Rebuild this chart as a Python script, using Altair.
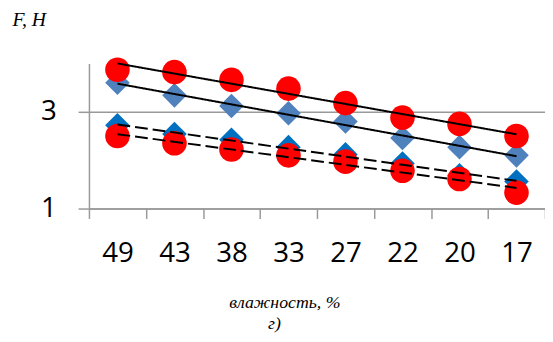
import altair as alt
import pandas as pd

categories = ["49", "43", "38", "33", "27", "22", "20", "17"]
blue_upper = [3.60, 3.34, 3.12, 2.97, 2.80, 2.46, 2.27, 2.10]
red_upper = [3.87, 3.82, 3.66, 3.48, 3.18, 2.88, 2.75, 2.50]
blue_lower = [2.72, 2.54, 2.42, 2.27, 2.12, 1.93, 1.69, 1.56]
red_lower = [2.50, 2.35, 2.22, 2.10, 1.97, 1.78, 1.61, 1.33]

series_names = ["blue_upper", "blue_lower", "red_upper", "red_lower"]
series_vals = [blue_upper, blue_lower, red_upper, red_lower]
colors = ["#4F81BD", "#0070C0", "#FF0000", "#FF0000"]
shapes = ["diamond", "diamond", "circle", "circle"]
dashes = [[1, 0], [13, 5], [1, 0], [13, 5]]
widths = [2.0, 2.0, 2.0, 3.0]

rows = []
for name, vals in zip(series_names, series_vals):
    for i, v in enumerate(vals):
        rows.append({"series": name, "idx": i + 1, "cat": categories[i], "value": v})
df = pd.DataFrame(rows)

axis_color = "#999999"

x_cat = alt.X(
    "cat:O",
    sort=categories,
    scale=alt.Scale(type="band", domain=categories, paddingInner=0, paddingOuter=0),
    axis=alt.Axis(
        tickBand="extent",
        labelAngle=0,
        grid=False,
        domainColor=axis_color,
        domainWidth=1.5,
        tickColor=axis_color,
        tickWidth=1.5,
        tickSize=10,
        labelFont="Open Sans",
        labelFontSize=28,
        labelColor="#000000",
        labelPadding=22,
        title="влажность, %",
        titleFont="Liberation Serif",
        titleFontStyle="italic",
        titleFontWeight="normal",
        titleFontSize=18,
        titleColor="#000000",
        titleX=198,
        titleY=86,
        titleAnchor="middle",
    ),
)

y = alt.Y(
    "value:Q",
    scale=alt.Scale(domain=[1, 4], nice=False, zero=False),
    axis=alt.Axis(
        values=[1, 3],
        grid=True,
        gridColor=axis_color,
        gridWidth=1.5,
        domainColor=axis_color,
        domainWidth=1.5,
        tickColor=axis_color,
        tickWidth=1.5,
        tickSize=11,
        labelFont="Open Sans",
        labelFontSize=28,
        labelColor="#000000",
        labelPadding=22,
        title="F, H",
        titleFont="Liberation Serif",
        titleFontStyle="italic",
        titleFontWeight="normal",
        titleFontSize=20,
        titleColor="#000000",
        titleAngle=0,
        titleAlign="left",
        titleBaseline="middle",
        titleX=-78,
        titleY=-44,
    ),
)

color = alt.Color("series:N", scale=alt.Scale(domain=series_names, range=colors), legend=None)
shape = alt.Shape("series:N", scale=alt.Scale(domain=series_names, range=shapes), legend=None)

base = alt.Chart(df)

diamonds = base.transform_filter(
    alt.FieldOneOfPredicate(field="series", oneOf=["blue_upper", "blue_lower"])
).mark_point(filled=True, opacity=1, size=620, strokeWidth=0).encode(x=x_cat, y=y, color=color, shape=shape)

circles = base.transform_filter(
    alt.FieldOneOfPredicate(field="series", oneOf=["red_upper", "red_lower"])
).mark_point(filled=True, opacity=1, size=620, strokeWidth=0).encode(x=x_cat, y=y, color=color, shape=shape)

points = alt.layer(diamonds, circles)

trend = base.transform_regression(
    "idx", "value", groupby=["series"]
).mark_line(color="#000000").encode(
    x=alt.X("idx:Q", scale=alt.Scale(domain=[0.5, 8.5], nice=False, zero=False), axis=None),
    y=alt.Y("value:Q"),
    detail="series:N",
    strokeDash=alt.StrokeDash("series:N", scale=alt.Scale(domain=series_names, range=dashes), legend=None),
    strokeWidth=alt.StrokeWidth("series:N", scale=alt.Scale(domain=series_names, range=widths), legend=None),
)

caption = alt.Chart(pd.DataFrame({"t": ["г)"]})).mark_text(
    font="Liberation Serif", fontStyle="italic", fontSize=18, color="#000000", align="center", baseline="middle"
).encode(text="t:N", x=alt.value(188), y=alt.value(264))

chart = alt.layer(points, trend, caption).resolve_scale(x="independent").properties(
    width=462,
    height=147,
    padding={"left": 82, "top": 54, "right": 0, "bottom": 132},
    autosize=alt.AutoSizeParams(type="none"),
).configure_view(stroke=None)

chart.save("out.html", embed_options={"renderer": "svg", "actions": False})
